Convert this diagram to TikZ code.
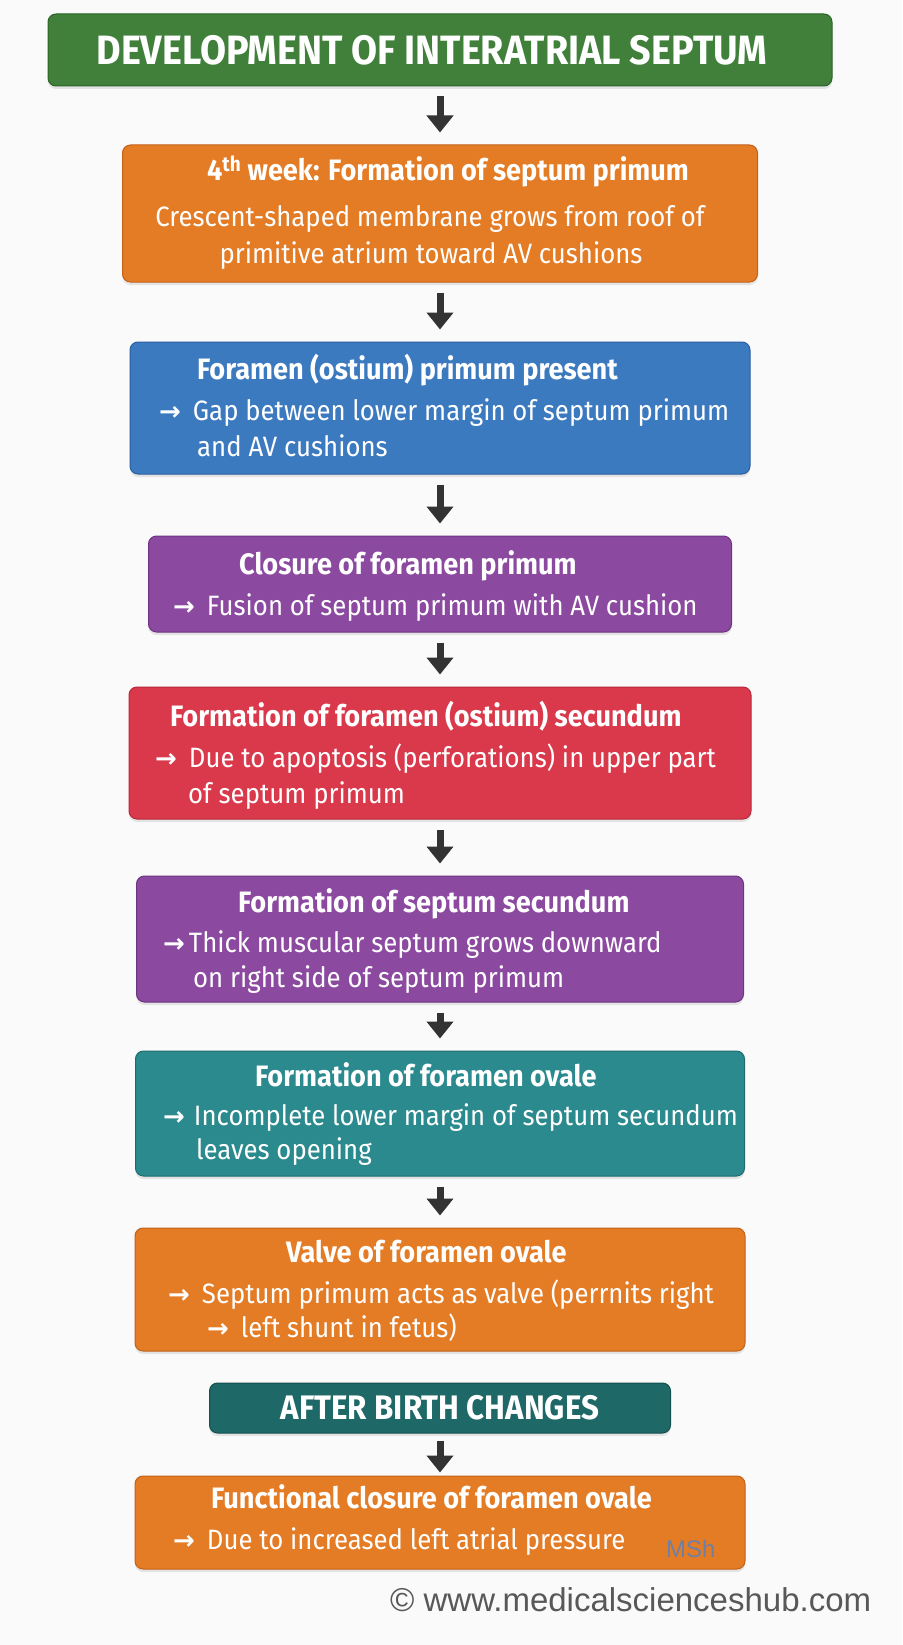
\documentclass[tikz,border=0pt]{standalone}
\usepackage{fontspec}
\setmainfont{Fira Sans}[FakeStretch=0.92]
\newfontfamily\webfont{Liberation Sans}
\newfontfamily\arrfont{DejaVu Sans}
\usepackage{tikz}
\usetikzlibrary{arrows.meta,shadows}
\usepackage{xcolor}
\definecolor{page-bg}{RGB}{250,250,250}
\definecolor{title-green}{RGB}{64,128,58}
\definecolor{title-edge}{RGB}{44,100,40}
\definecolor{step-orange}{RGB}{228,123,37}
\definecolor{orange-edge}{RGB}{196,96,24}
\definecolor{step-blue}{RGB}{60,122,192}
\definecolor{blue-edge}{RGB}{42,94,160}
\definecolor{step-purple}{RGB}{139,73,160}
\definecolor{purple-edge}{RGB}{108,52,130}
\definecolor{step-red}{RGB}{217,57,75}
\definecolor{red-edge}{RGB}{184,40,58}
\definecolor{step-teal}{RGB}{43,138,142}
\definecolor{teal-edge}{RGB}{30,108,112}
\definecolor{birth-teal}{RGB}{30,104,103}
\definecolor{birth-edge}{RGB}{20,78,78}
\definecolor{arrow-grey}{RGB}{51,51,51}
\definecolor{mark-grey}{RGB}{110,128,165}
\definecolor{web-grey}{RGB}{88,88,88}
\newcommand{\rarr}[1][12pt]{{\arrfont\bfseries\fontsize{26}{26}\selectfont →}\hspace{#1}}
\tikzstyle{box}=[rounded corners=8pt, line width=1pt, inner sep=0pt, drop shadow={opacity=0.18, shadow xshift=0pt, shadow yshift=-3pt}]
\tikzstyle{head}=[text=white, font=\fontsize{29.5}{34}\selectfont\bfseries, anchor=base west, inner sep=0pt]
\tikzstyle{body}=[text=white, font=\fontsize{28}{34}\selectfont, anchor=base west, inner sep=0pt]
\tikzstyle{flow}=[-{Triangle[width=26pt,length=17pt]}, line width=7pt, draw=arrow-grey, shorten <=10pt, shorten >=12pt]

\begin{document}
\begin{tikzpicture}[x=1pt, y=-1pt]
	\fill[page-bg] (0,0) rectangle (902,1645);
	\useasboundingbox (0,0) rectangle (902,1645);
	\node[box, fill=title-green, draw=title-edge, minimum width=784pt, minimum height=72pt, text=white, font=\fontsize{41}{44}\selectfont\bfseries] (title) at (440,50) {DEVELOPMENT OF INTERATRIAL SEPTUM\hspace*{16pt}\null};
	\node[box, fill=step-orange, draw=orange-edge, minimum width=635pt, minimum height=137pt] (b1) at (440,213.5) {};
	\node[box, fill=step-blue, draw=blue-edge, minimum width=620pt, minimum height=132pt] (b2) at (440,408) {};
	\node[box, fill=step-purple, draw=purple-edge, minimum width=583pt, minimum height=96pt] (b3) at (440,584) {};
	\node[box, fill=step-red, draw=red-edge, minimum width=622pt, minimum height=132pt] (b4) at (440,753) {};
	\node[box, fill=step-purple, draw=purple-edge, minimum width=607pt, minimum height=126pt] (b5) at (440,939) {};
	\node[box, fill=step-teal, draw=teal-edge, minimum width=609pt, minimum height=125pt] (b6) at (440,1113.5) {};
	\node[box, fill=step-orange, draw=orange-edge, minimum width=610pt, minimum height=123pt] (b7) at (440,1289.5) {};
	\node[box, fill=birth-teal, draw=birth-edge, minimum width=461pt, minimum height=50pt, text=white, font=\fontsize{34}{36}\selectfont\bfseries] (after) at (440,1408) {AFTER BIRTH CHANGES};
	\node[box, fill=step-orange, draw=orange-edge, minimum width=610pt, minimum height=93pt] (b8) at (440,1522.5) {};

	\node[head, anchor=base] (b1h) at (448,181) {4\textsuperscript{th} week: Formation of septum primum};
	\node[body, anchor=base] (b1a) at (430,227) {Crescent-shaped membrane grows from roof of};
	\node[body, anchor=base] (b1b) at (431,263) {primitive atrium toward AV cushions};

	\node[head] (b2h) at (197,379) {Foramen (ostium) primum present};
	\node[body] (b2a) at (159,420) {\rarr Gap between lower margin of septum primum};
	\node[body] (b2b) at (197,456) {and AV cushions};

	\node[head] (b3h) at (239,574) {Closure of foramen primum};
	\node[body] (b3a) at (173,615) {\rarr Fusion of septum primum with AV cushion};

	\node[head] (b4h) at (170,726) {Formation of foramen (ostium) secundum};
	\node[body] (b4a) at (155,767) {\rarr Due to apoptosis (perforations) in upper part};
	\node[body] (b4b) at (188,803) {of septum primum};

	\node[head] (b5h) at (238,912) {Formation of septum secundum};
	\node[body] (b5a) at (163,952) {\rarr[4pt]Thick muscular septum grows downward};
	\node[body] (b5b) at (193,987) {on right side of septum primum};

	\node[head] (b6h) at (255,1086) {Formation of foramen ovale};
	\node[body] (b6a) at (163,1125) {\rarr[9pt]Incomplete lower margin of septum secundum};
	\node[body] (b6b) at (196,1159) {leaves opening};

	\node[head] (b7h) at (286,1262) {Valve of foramen ovale};
	\node[body] (b7a) at (168,1303) {\rarr Septum primum acts as valve (perrnits right};
	\node[body] (b7b) at (207,1337) {\rarr left shunt in fetus)};

	\node[head] (b8h) at (211,1508) {Functional closure of foramen ovale};
	\node[body] (b8a) at (173,1549) {\rarr Due to increased left atrial pressure};
	\node[anchor=base west, inner sep=0pt, text=mark-grey, font=\webfont\fontsize{24}{26}\selectfont] (msh) at (666,1557) {MSh};

	\node[anchor=base west, inner sep=0pt, text=web-grey, font=\webfont\fontsize{33}{36}\selectfont] (web) at (390,1611) {© www.medicalscienceshub.com};

	\draw[flow] (title) -- (b1);
	\draw[flow] (b1) -- (b2);
	\draw[flow] (b2) -- (b3);
	\draw[flow] (b3) -- (b4);
	\draw[flow] (b4) -- (b5);
	\draw[flow] (b5) -- (b6);
	\draw[flow] (b6) -- (b7);
	\draw[flow, shorten <=7pt, shorten >=3pt] (after) -- (b8);
\end{tikzpicture}
\end{document}
